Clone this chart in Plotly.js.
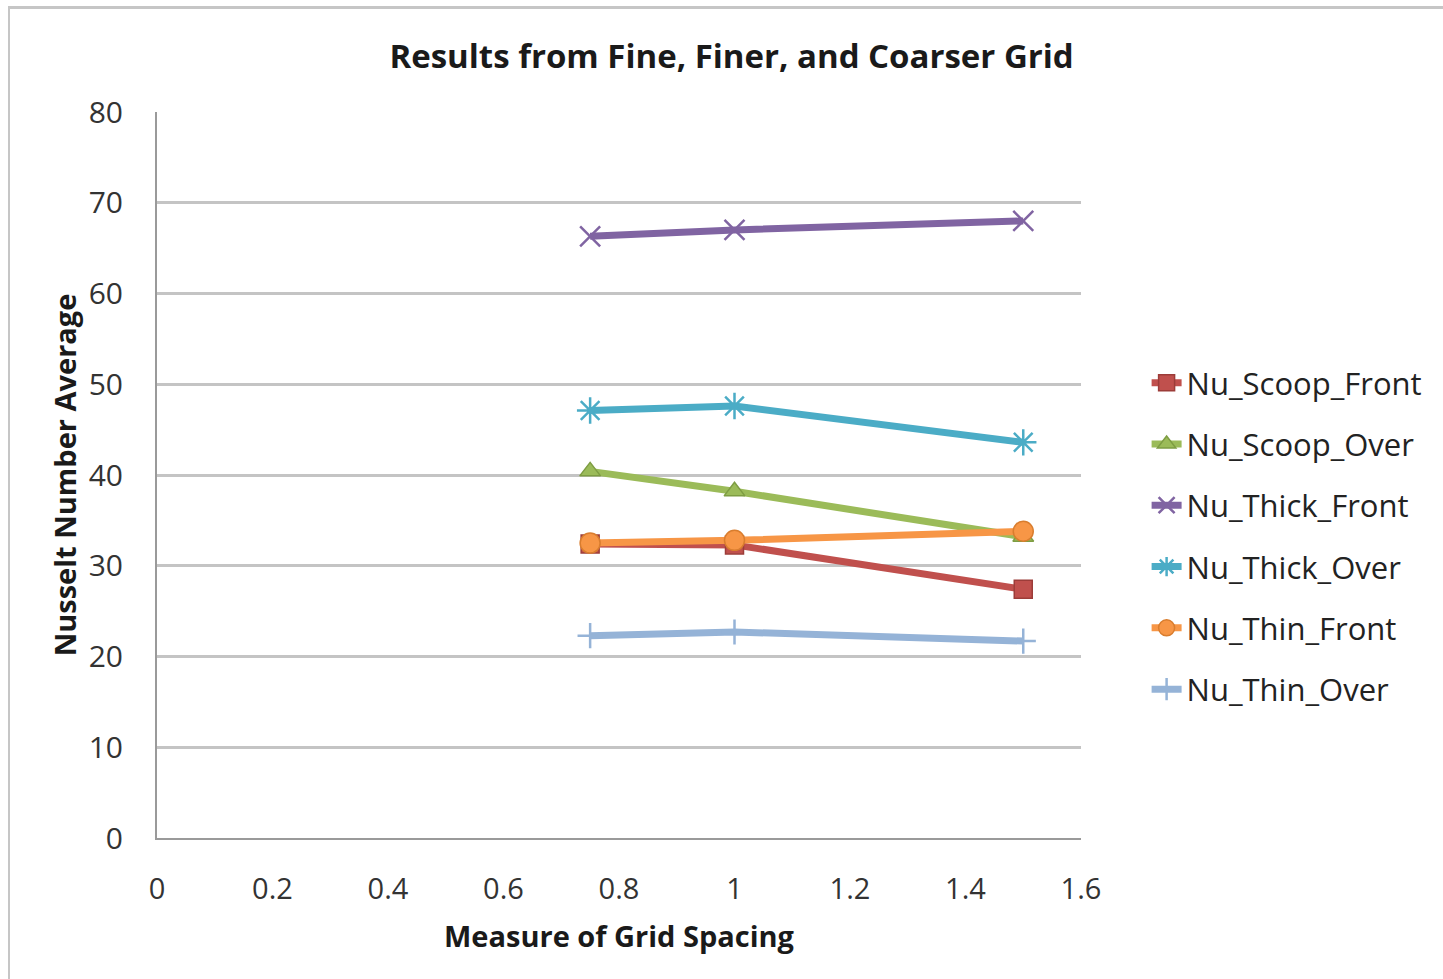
<!DOCTYPE html>
<html>
<head>
<meta charset="utf-8">
<script src="https://cdn.plot.ly/plotly-3.0.1.min.js"></script>
<style>
  html, body { margin: 0; padding: 0; background: #ffffff; }
  #frame { position: absolute; left: 8px; top: 6px; right: 0; bottom: 0;
           border-top: 3px solid #c6c6c6; border-left: 2px solid #c6c6c6; }
  #chart { position: absolute; left: 0; top: 0; width: 1443px; height: 979px; }
</style>
</head>
<body>
<div id="frame"></div>
<div id="chart"></div>
<script>
// Grid spacing measure for the fine, finer and coarser grids
const gridSpacing = [0.75, 1, 1.5];

// Average Nusselt number per configuration
const nuScoopFront = [32.4, 32.3, 27.4];
const nuScoopOver  = [40.4, 38.2, 33.2];
const nuThickFront = [66.3, 67.0, 68.0];
const nuThickOver  = [47.1, 47.6, 43.6];
const nuThinFront  = [32.5, 32.8, 33.8];
const nuThinOver   = [22.3, 22.7, 21.7];

const seriesNames = ['Nu_Scoop_Front', 'Nu_Scoop_Over', 'Nu_Thick_Front',
                     'Nu_Thick_Over', 'Nu_Thin_Front', 'Nu_Thin_Over'];
const seriesValues = [nuScoopFront, nuScoopOver, nuThickFront,
                      nuThickOver, nuThinFront, nuThinOver];

const colors  = ['#C0504D', '#9BBB59', '#8064A2', '#4BACC6', '#F79646', '#95B3D7'];
const borders = ['#9C3C39', '#7E9D43', '#8064A2', '#4BACC6', '#D97D2E', '#95B3D7'];
const symbols = ['square', 'triangle-up', 'x-thin-open', 'asterisk-open', 'circle', 'cross-thin-open'];
const sizes   = [18, 18, 20, 22, 20, 18];

const FONT = '"Open Sans", "Liberation Sans", sans-serif';

const traces = seriesNames.map((name, i) => ({
  type: 'scatter',
  mode: 'lines+markers',
  name: name,
  legendgroup: 'g' + i,
  x: gridSpacing,
  y: seriesValues[i],
  line: { color: colors[i], width: 7 },
  marker: {
    symbol: symbols[i],
    size: sizes[i],
    color: colors[i],
    line: { color: borders[i], width: symbols[i].indexOf('open') >= 0 ? 2.5 : 1.5 }
  }
}));

const layout = {
  width: 1443,
  height: 979,
  paper_bgcolor: 'rgba(0,0,0,0)',
  plot_bgcolor: '#ffffff',
  margin: { l: 157, r: 362, t: 112, b: 141 },
  font: { family: FONT, color: '#333333', size: 29 },
  title: {
    text: 'Results from Fine, Finer, and Coarser Grid',
    font: { family: FONT, size: 33, weight: 'bold', color: '#1a1a1a' },
    x: 0.507, xanchor: 'center',
    y: 0.942, yanchor: 'middle'
  },
  xaxis: {
    range: [0, 1.6],
    tickvals: [0, 0.2, 0.4, 0.6, 0.8, 1, 1.2, 1.4, 1.6],
    ticktext: ['0', '0.2', '0.4', '0.6', '0.8', '1', '1.2', '1.4', '1.6'],
    showgrid: false,
    zeroline: false,
    showline: true,
    linecolor: '#9a9a9a',
    linewidth: 2,
    ticks: '',
    ticklabelstandoff: 24,
    tickfont: { family: FONT, size: 29, color: '#333333' },
    title: {
      text: 'Measure of Grid Spacing',
      font: { family: FONT, size: 29, weight: 'bold', color: '#1a1a1a' },
      standoff: 21
    },
    fixedrange: true
  },
  yaxis: {
    range: [0, 80],
    tickvals: [0, 10, 20, 30, 40, 50, 60, 70, 80],
    showgrid: true,
    gridcolor: '#c4c4c4',
    gridwidth: 3,
    zeroline: false,
    showline: true,
    linecolor: '#9a9a9a',
    linewidth: 2,
    ticks: '',
    ticklabelstandoff: 26,
    tickfont: { family: FONT, size: 30, color: '#333333' },
    title: {
      text: 'Nusselt Number Average',
      font: { family: FONT, size: 29, weight: 'bold', color: '#1a1a1a' },
      standoff: 4
    },
    fixedrange: true
  },
  legend: {
    x: 1.071, xanchor: 'left',
    y: 0.416, yanchor: 'middle',
    font: { family: FONT, size: 31, color: '#222222' },
    tracegroupgap: 18,
    itemwidth: 30,
    bgcolor: 'rgba(0,0,0,0)'
  },
  showlegend: true
};

Plotly.newPlot('chart', traces, layout, { displayModeBar: false, staticPlot: true });
</script>
</body>
</html>
